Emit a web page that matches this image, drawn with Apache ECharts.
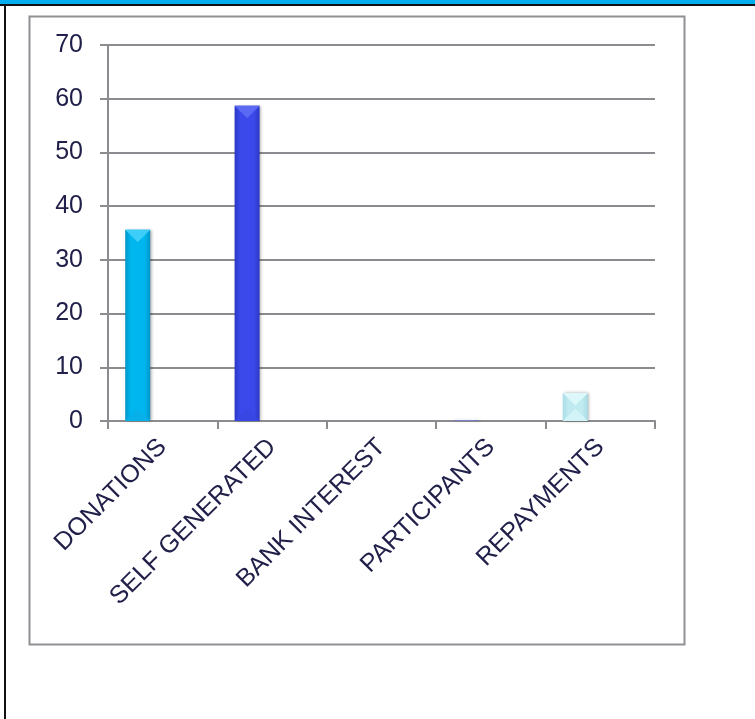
<!DOCTYPE html>
<html>
<head>
<meta charset="utf-8">
<script src="https://cdn.jsdelivr.net/npm/echarts@6/dist/echarts.min.js"></script>
<style>
html,body{margin:0;padding:0;background:#fff;}
#chart{width:755px;height:719px;}
</style>
</head>
<body>
<div id="chart"></div>
<script>
var categories = ['DONATIONS', 'SELF GENERATED', 'BANK INTEREST', 'PARTICIPANTS', 'REPAYMENTS'];
var values = [35.6, 58.7, 0, 0.1, 5.2];
var yTicks = [0, 10, 20, 30, 40, 50, 60, 70];
// edge, body, top facet, bottom facet
var barColors = [
  ['#0096c8', '#00b6ee', '#3ccdf8', '#06b0e8'],
  ['#2c38c4', '#3b49ea', '#5a68f4', '#3846e4'],
  ['#a6b0e8', '#a6b0e8', '#b8c0f0', '#a6b0e8'],
  ['#5968dc', '#7080e4', '#8a98ec', '#7080e4'],
  ['#a8dde6', '#bfeaf0', '#dcf8fb', '#d2f4f8']
];

function grad(c) {
  return new echarts.graphic.LinearGradient(0, 0, 1, 0, [
    {offset: 0, color: c[0]},
    {offset: 0.22, color: c[1]},
    {offset: 0.78, color: c[1]},
    {offset: 1, color: c[0]}
  ]);
}

var BAR_W = 25;
var seriesData = values.map(function (v, i) {
  return {value: v, itemStyle: {color: grad(barColors[i])}};
});
var emptyData = categories.map(function () { return null; });
var bevelData = values.map(function (v, i) { return [i, v]; });

function renderBevel(params, api) {
  var i = api.value(0), v = api.value(1);
  if (!v) return null;
  var top = api.coord([i, v]);
  var base = api.coord([i, 0]);
  var xc = top[0] - BAR_W; // first of three clustered slots
  var x0 = xc - BAR_W / 2, x1 = xc + BAR_W / 2;
  var h = base[1] - top[1];
  var t = Math.min(BAR_W / 2, h / 2);
  var c = barColors[i];
  return {
    type: 'group',
    children: [
      {type: 'polygon', shape: {points: [[x0, top[1]], [x1, top[1]], [xc, top[1] + t]]}, style: {fill: c[2]}},
      {type: 'polygon', shape: {points: [[x0, base[1]], [x1, base[1]], [xc, base[1] - t]]}, style: {fill: c[3]}}
    ]
  };
}

var chart = echarts.init(document.getElementById('chart'), null, {renderer: 'canvas'});
var textColor = '#20204a';
var lineColor = '#8c8c90';
chart.setOption({
  animation: false,
  backgroundColor: '#ffffff',
  graphic: [
    {type: 'rect', shape: {x: 0, y: 0, width: 755, height: 4}, style: {fill: '#00aeef'}, z: 10},
    {type: 'rect', shape: {x: 0, y: 4, width: 755, height: 2}, style: {fill: '#111111'}, z: 10},
    {type: 'rect', shape: {x: 4, y: 4, width: 2, height: 715}, style: {fill: '#111111'}, z: 10},
    {type: 'rect', shape: {x: 29.5, y: 16.5, width: 655, height: 628}, style: {fill: 'none', stroke: '#909095', lineWidth: 2}, z: 10}
  ],
  grid: {left: 108, right: 100, top: 45, bottom: 298, containLabel: false},
  xAxis: {
    type: 'category',
    data: categories,
    axisLine: {lineStyle: {color: lineColor, width: 2}},
    axisTick: {show: true, length: 8, lineStyle: {color: lineColor, width: 2}},
    axisLabel: {
      rotate: 45, margin: 22, color: textColor,
      fontFamily: 'Liberation Sans, Arial, sans-serif', fontSize: 25, interval: 0
    }
  },
  yAxis: {
    type: 'value',
    min: 0, max: 70, interval: 10,
    axisLine: {show: true, lineStyle: {color: lineColor, width: 2}},
    axisTick: {show: true, length: 8, lineStyle: {color: lineColor, width: 2}},
    splitLine: {show: true, lineStyle: {color: lineColor, width: 2}},
    axisLabel: {
      margin: 25, color: textColor,
      fontFamily: 'Liberation Sans, Arial, sans-serif', fontSize: 25,
      formatter: function (v) { return yTicks.indexOf(v) >= 0 ? String(v) : ''; }
    }
  },
  series: [
    {type: 'bar', data: seriesData, barWidth: BAR_W, barGap: '0%',
     itemStyle: {shadowColor: 'rgba(0,0,0,0.35)', shadowBlur: 3, shadowOffsetX: 1.5, shadowOffsetY: 0}},
    {type: 'bar', data: emptyData, barWidth: BAR_W, barGap: '0%'},
    {type: 'bar', data: emptyData, barWidth: BAR_W, barGap: '0%'},
    {type: 'custom', data: bevelData, renderItem: renderBevel, z: 5, silent: true,
     encode: {x: 0, y: 1}}
  ]
});
</script>
</body>
</html>
